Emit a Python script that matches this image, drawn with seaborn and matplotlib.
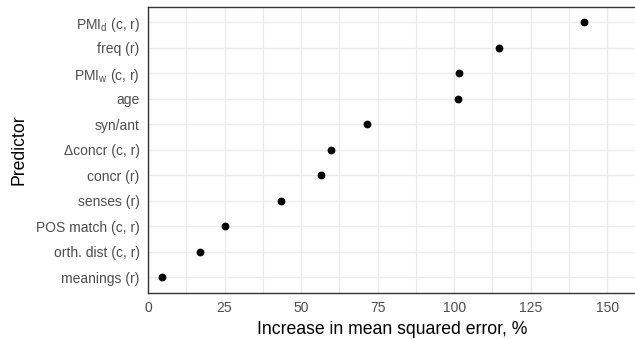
import matplotlib
matplotlib.use("Agg")
import matplotlib.pyplot as plt
import seaborn as sns
import numpy as np
from matplotlib.ticker import MultipleLocator

predictors = [r"PMI$_{\mathregular{d}}$ (c, r)", "freq (r)", r"PMI$_{\mathregular{w}}$ (c, r)", "age",
              "syn/ant", "Δconcr (c, r)", "concr (r)", "senses (r)",
              "POS match (c, r)", "orth. dist (c, r)", "meanings (r)"]
increase_mse = [142.5, 114.7, 101.6, 101.2, 71.5, 59.7, 56.6, 43.6, 25.0, 17.1, 4.7]
x_ticks = [0, 25, 50, 75, 100, 125, 150]

sns.set_style("white")
plt.rcParams['font.family'] = ['Liberation Sans', 'DejaVu Sans']
plt.rcParams['mathtext.fontset'] = 'custom'
plt.rcParams['mathtext.rm'] = 'Liberation Sans'
plt.rcParams['mathtext.it'] = 'Liberation Sans'

fig = plt.figure(figsize=(6.35, 3.39), dpi=100)
ax = fig.add_axes([148/635, 46.3/339, 1 - 148/635 + 0.002, (332 - 46.3)/339])

sns.stripplot(x=increase_mse, y=predictors, orient='h', jitter=False, color='black',
              size=5.6, ax=ax, zorder=3, linewidth=0)

ax.set_xlim(0, 159.5)
ax.set_ylim(len(predictors) - 1 + 0.6, -0.6)
ax.set_xticks(x_ticks)
ax.xaxis.set_minor_locator(MultipleLocator(12.5))
ax.grid(True, which='major', axis='both', color='#EBEBEB', linewidth=1.0, zorder=0)
ax.grid(True, which='minor', axis='x', color='#EBEBEB', linewidth=0.8, zorder=0)
ax.set_axisbelow(True)

for s in ['left', 'bottom', 'top']:
    ax.spines[s].set_color('#333333')
    ax.spines[s].set_linewidth(1.0)
ax.spines['right'].set_visible(False)

ax.tick_params(axis='both', which='major', length=3.5, width=0.8, color='#333333',
               labelsize=10, labelcolor='#4D4D4D', pad=2.5)
ax.tick_params(axis='x', which='minor', length=0)
ax.set_xlabel("Increase in mean squared error, %", fontsize=12.7, color='black', labelpad=4)
ax.set_ylabel("Predictor", fontsize=12.7, color='black', labelpad=6)

fig.savefig("out.png", dpi=100)
